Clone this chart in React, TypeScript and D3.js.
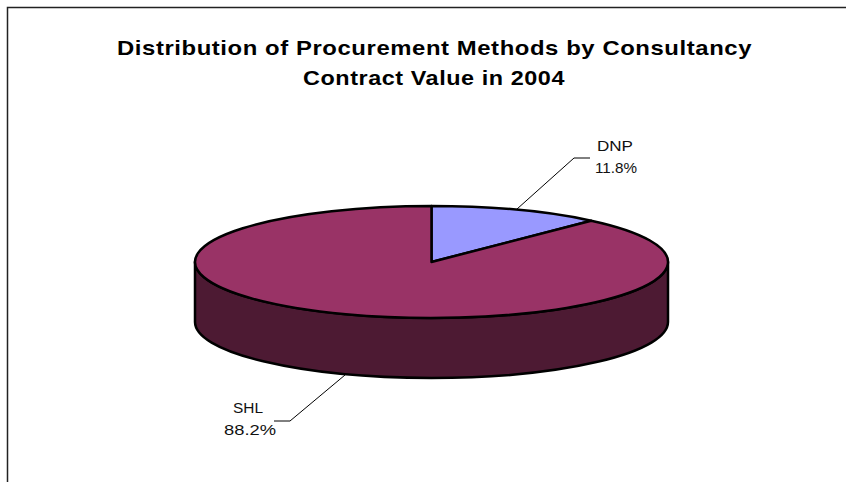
import React from "react";
import * as d3 from "d3";

const categories = ["DNP", "SHL"];
const shares = [11.8, 88.2];
const topColors = ["#9999FF", "#993366"];
const sideColor = "#4D1A33";
const titleLines = ["Distribution of Procurement Methods by Consultancy", "Contract Value in 2004"];

const W = 846, H = 482;
const cx = 431.5, cy = 262, rx = 236.5, ry = 56, depth = 60;

const pieLayout = d3.pie<number>().sort(null).startAngle(0).endAngle(2 * Math.PI);
const arcs = pieLayout(shares);
const arcGen = d3.arc<any>().innerRadius(0).outerRadius(rx);
const yScale = ry / rx;

const sideD = `M${cx - rx},${cy} L${cx - rx},${cy + depth} A${rx},${ry} 0 0 0 ${cx + rx},${cy + depth} L${cx + rx},${cy} A${rx},${ry} 0 0 1 ${cx - rx},${cy} Z`;

const font = "'Liberation Sans', Arial, sans-serif";
const titleLayout = [
  { x: 117, y: 55, len: 635 },
  { x: 303, y: 85, len: 262 },
];
const labelText = [categories[0], `${shares[0].toFixed(1)}%`, categories[1], `${shares[1].toFixed(1)}%`];
const labelLayout = [
  { x: 597, y: 151, len: 36 },
  { x: 595, y: 173, len: 42 },
  { x: 233, y: 413, len: 30 },
  { x: 224, y: 435, len: 52 },
];

export default function App() {
  return (
    <svg
      width={W}
      height={H}
      viewBox={`0 0 ${W} ${H}`}
      style={{ position: "fixed", left: 0, top: 0, display: "block", background: "#fff" }}
    >
      <path d={`M7.5,${H} V7.5 H${W}`} fill="none" stroke="#222" strokeWidth={1.5} />
      {titleLines.map((t, i) => (
        <text
          key={t}
          x={titleLayout[i].x}
          y={titleLayout[i].y}
          textLength={titleLayout[i].len}
          lengthAdjust="spacingAndGlyphs"
          fontFamily={font}
          fontWeight={700}
          fontSize={20.5}
          letterSpacing={0.5}
          fill="#000"
        >
          {t}
        </text>
      ))}

      <path d={sideD} fill={sideColor} stroke="#000" strokeWidth={2.5} strokeLinejoin="round" />
      {arcs.map((a, i) => (
        <path
          key={categories[i]}
          d={arcGen(a) as string}
          transform={`translate(${cx},${cy}) scale(1,${yScale})`}
          fill={topColors[i]}
          stroke="#000"
          strokeWidth={2.5}
          vectorEffect="non-scaling-stroke"
          strokeLinejoin="round"
        />
      ))}

      <polyline points="517,209 574,158 590,158" fill="none" stroke="#000" strokeWidth={1} />
      <polyline points="345,375 290,421 274,421" fill="none" stroke="#000" strokeWidth={1} />

      <g fontFamily={font} fontSize={15.5} fill="#111">
        {labelText.map((t, i) => (
          <text key={t} x={labelLayout[i].x} y={labelLayout[i].y} textLength={labelLayout[i].len} lengthAdjust="spacingAndGlyphs">
            {t}
          </text>
        ))}
      </g>
    </svg>
  );
}
